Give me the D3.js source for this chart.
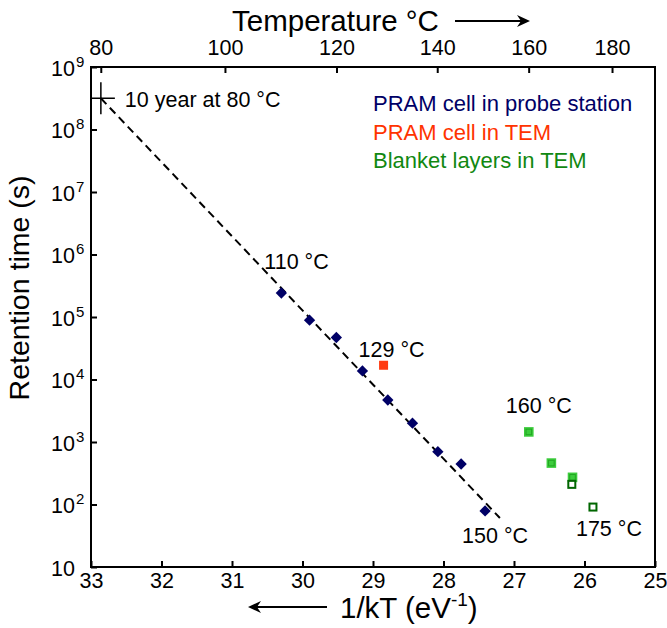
<!DOCTYPE html>
<html>
<head>
<meta charset="utf-8">
<script src="https://cdn.jsdelivr.net/npm/d3@7"></script>
<style>
  body { margin: 0; background: #fff; }
  svg { display: block; font-family: "Liberation Sans", Arial, sans-serif; }
</style>
</head>
<body>
<div id="chart"></div>
<script>
// Arrhenius plot of retention time
const kB = 8.617e-5; // eV/K

// PRAM cell in probe station
const probeInvKT = [30.30, 29.90, 29.52, 29.15, 28.79, 28.44, 28.08, 27.75, 27.41];
const probeTime = [2.42e5, 8.9e4, 4.7e4, 1.37e4, 4.7e3, 2.0e3, 7.0e2, 4.45e2, 7.9e1];

// PRAM cell in TEM
const temInvKT = [28.85];
const temTime = [1.69e4];

// Blanket layers in TEM (filled and open squares)
const blanketInvKT = [26.79, 26.47, 26.17];
const blanketTime = [1.45e3, 4.6e2, 2.72e2];
const blanketOpenInvKT = [26.18, 25.88];
const blanketOpenTime = [2.1e2, 9.1e1];

// Extrapolated fit line (10 year at 80 °C down to the end point)
const fitInvKT = [32.86, 27.2];
const fitTime = [3.156e8, 60.8];

const xTicks = [33, 32, 31, 30, 29, 28, 27, 26, 25];
const tempTicks = [80, 100, 120, 140, 160, 180];
const yExponents = [1, 2, 3, 4, 5, 6, 7, 8, 9];

const legendItems = ["PRAM cell in probe station", "PRAM cell in TEM", "Blanket layers in TEM"];
const legendColors = ["#000066", "#ff3300", "#118811"];

const width = 667, height = 628;
const margin = { left: 91, right: 12, top: 67, bottom: 61 };
const font = "Liberation Sans, Arial, sans-serif";

const x = d3.scaleLinear().domain([33, 25]).range([margin.left, width - margin.right]);
const y = d3.scaleLog().domain([10, 1e9]).range([height - margin.bottom, margin.top]);
const invKT = (t) => 1 / (kB * (t + 273.15));

const svg = d3.select("#chart").append("svg")
	.attr("width", width)
	.attr("height", height)
	.attr("font-family", font);

svg.append("defs").append("clipPath").attr("id", "plot")
	.append("rect")
	.attr("x", margin.left).attr("y", margin.top)
	.attr("width", width - margin.left - margin.right)
	.attr("height", height - margin.top - margin.bottom);

// bottom axis
const bottomAxis = svg.append("g")
	.attr("transform", `translate(0,${height - margin.bottom})`)
	.call(d3.axisBottom(x).tickValues(xTicks).tickSize(-6).tickPadding(6).tickFormat(d3.format("d")));
bottomAxis.select(".domain").remove();

// top axis, temperature
const topAxis = svg.append("g")
	.attr("transform", `translate(0,${margin.top})`)
	.call(d3.axisTop(x).tickValues(tempTicks.map(invKT)).tickSize(-6).tickPadding(12)
		.tickFormat((d, i) => tempTicks[i]));
topAxis.select(".domain").remove();

// left axis, log
const leftAxis = svg.append("g")
	.attr("transform", `translate(${margin.left},0)`)
	.call(d3.axisLeft(y).tickValues(yExponents.map((e) => Math.pow(10, e))).tickSize(-6).tickFormat(""));
leftAxis.select(".domain").remove();

[bottomAxis, topAxis, leftAxis].forEach((g) => {
	g.attr("font-family", font);
	g.selectAll(".tick line").attr("stroke", "#000").attr("stroke-width", 2);
	g.selectAll(".tick text").attr("font-size", 21.5).attr("fill", "#000");
});

// y tick labels with exponents
const yl = svg.append("g").attr("font-size", 21.5);
yExponents.forEach((e) => {
	const v = Math.pow(10, e);
	yl.append("text").attr("x", 75).attr("y", y(v)).attr("dy", "0.4em")
		.attr("text-anchor", "end").text("10");
	if (e > 1) {
		yl.append("text").attr("x", 76).attr("y", y(v)).attr("dy", "-0.02em")
			.attr("font-size", 15).text(e);
	}
});

// frame
svg.append("rect")
	.attr("x", margin.left).attr("y", margin.top)
	.attr("width", width - margin.left - margin.right)
	.attr("height", height - margin.top - margin.bottom)
	.attr("fill", "none").attr("stroke", "#000").attr("stroke-width", 2);

const plot = svg.append("g").attr("clip-path", "url(#plot)");

// fit line
plot.append("path")
	.datum(fitInvKT.map((d, i) => [d, fitTime[i]]))
	.attr("d", d3.line().x((d) => x(d[0])).y((d) => y(d[1])))
	.attr("fill", "none").attr("stroke", "#000").attr("stroke-width", 2)
	.attr("stroke-dasharray", "8,5");

// 10 year cross
const cx = x(fitInvKT[0]), cy = y(fitTime[0]);
plot.append("path")
	.attr("d", `M${cx - 16},${cy}H${cx + 14}M${cx},${cy - 16}V${cy + 16}`)
	.attr("stroke", "#000").attr("stroke-width", 1.5);

// probe station diamonds
plot.selectAll(".probe")
	.data(probeInvKT.map((d, i) => [d, probeTime[i]]))
	.join("rect")
	.attr("class", "probe")
	.attr("x", -4).attr("y", -4).attr("width", 8).attr("height", 8)
	.attr("transform", (d) => `translate(${x(d[0])},${y(d[1])}) rotate(45)`)
	.attr("fill", "#000066");

// TEM cell square
plot.selectAll(".tem")
	.data(temInvKT.map((d, i) => [d, temTime[i]]))
	.join("rect")
	.attr("class", "tem")
	.attr("x", (d) => x(d[0]) - 4.5).attr("y", (d) => y(d[1]) - 4.5)
	.attr("width", 9).attr("height", 9)
	.attr("fill", "#ff3a10");

// blanket filled squares
const bf = plot.selectAll(".blanket")
	.data(blanketInvKT.map((d, i) => [d, blanketTime[i]]))
	.join("g")
	.attr("class", "blanket")
	.attr("transform", (d) => `translate(${x(d[0])},${y(d[1])})`);
bf.append("rect").attr("x", -4.8).attr("y", -4.8).attr("width", 9.6).attr("height", 9.6)
	.attr("fill", "#3ccc3c");
bf.append("rect").attr("x", -2.8).attr("y", -2.8).attr("width", 5.6).attr("height", 5.6)
	.attr("fill", "none").attr("stroke", "#22a622").attr("stroke-width", 1);

// blanket open squares
plot.selectAll(".blanketOpen")
	.data(blanketOpenInvKT.map((d, i) => [d, blanketOpenTime[i]]))
	.join("rect")
	.attr("class", "blanketOpen")
	.attr("x", (d) => x(d[0]) - 3.5).attr("y", (d) => y(d[1]) - 3.5)
	.attr("width", 7).attr("height", 7)
	.attr("fill", "#fff").attr("stroke", "#006600").attr("stroke-width", 2);

// annotations
const ann = svg.append("g").attr("font-size", 21.5).attr("fill", "#000");
const note = (text, px, py, dx, dy) =>
	ann.append("text").attr("x", x(px) + dx).attr("y", y(py) + dy).text(text);
note("10 year at 80 °C", fitInvKT[0], fitTime[0], 24, 9);
note("110 °C", probeInvKT[0], probeTime[0], -17, -24);
note("129 °C", temInvKT[0], temTime[0], -25, -8);
note("150 °C", probeInvKT[8], probeTime[8], -23, 32);
note("160 °C", blanketInvKT[0], blanketTime[0], -23, -19);
note("175 °C", blanketOpenInvKT[1], blanketOpenTime[1], -17, 29);

// legend
svg.append("g").attr("font-size", 22)
	.selectAll("text")
	.data(legendItems)
	.join("text")
	.attr("x", 373)
	.attr("y", (d, i) => 111 + i * 28.5)
	.attr("fill", (d, i) => legendColors[i])
	.text((d) => d);

// axis titles with arrows
const arrow = (x1, x2, yy) => {
	const dir = Math.sign(x2 - x1);
	svg.append("path")
		.attr("d", `M${x1},${yy}H${x2 - dir * 6}`)
		.attr("stroke", "#000").attr("stroke-width", 2);
	svg.append("path")
		.attr("d", `M${x2},${yy}L${x2 - dir * 13},${yy - 6}L${x2 - dir * 9},${yy}L${x2 - dir * 13},${yy + 6}Z`)
		.attr("fill", "#000");
};

svg.append("text")
	.attr("x", 232).attr("y", 31)
	.attr("font-size", 29.5)
	.text("Temperature °C");
arrow(455, 530, 21);

const xt = svg.append("text")
	.attr("x", 340).attr("y", 618)
	.attr("font-size", 29.5);
xt.append("tspan").text("1/kT (eV");
xt.append("tspan").attr("font-size", 19).attr("dy", -12).text("-1");
xt.append("tspan").attr("dy", 12).text(")");
arrow(327, 248, 607);

svg.append("text")
	.attr("transform", "translate(29,288) rotate(-90)")
	.attr("text-anchor", "middle")
	.attr("font-size", 28.5)
	.text("Retention time (s)");
</script>
</body>
</html>
